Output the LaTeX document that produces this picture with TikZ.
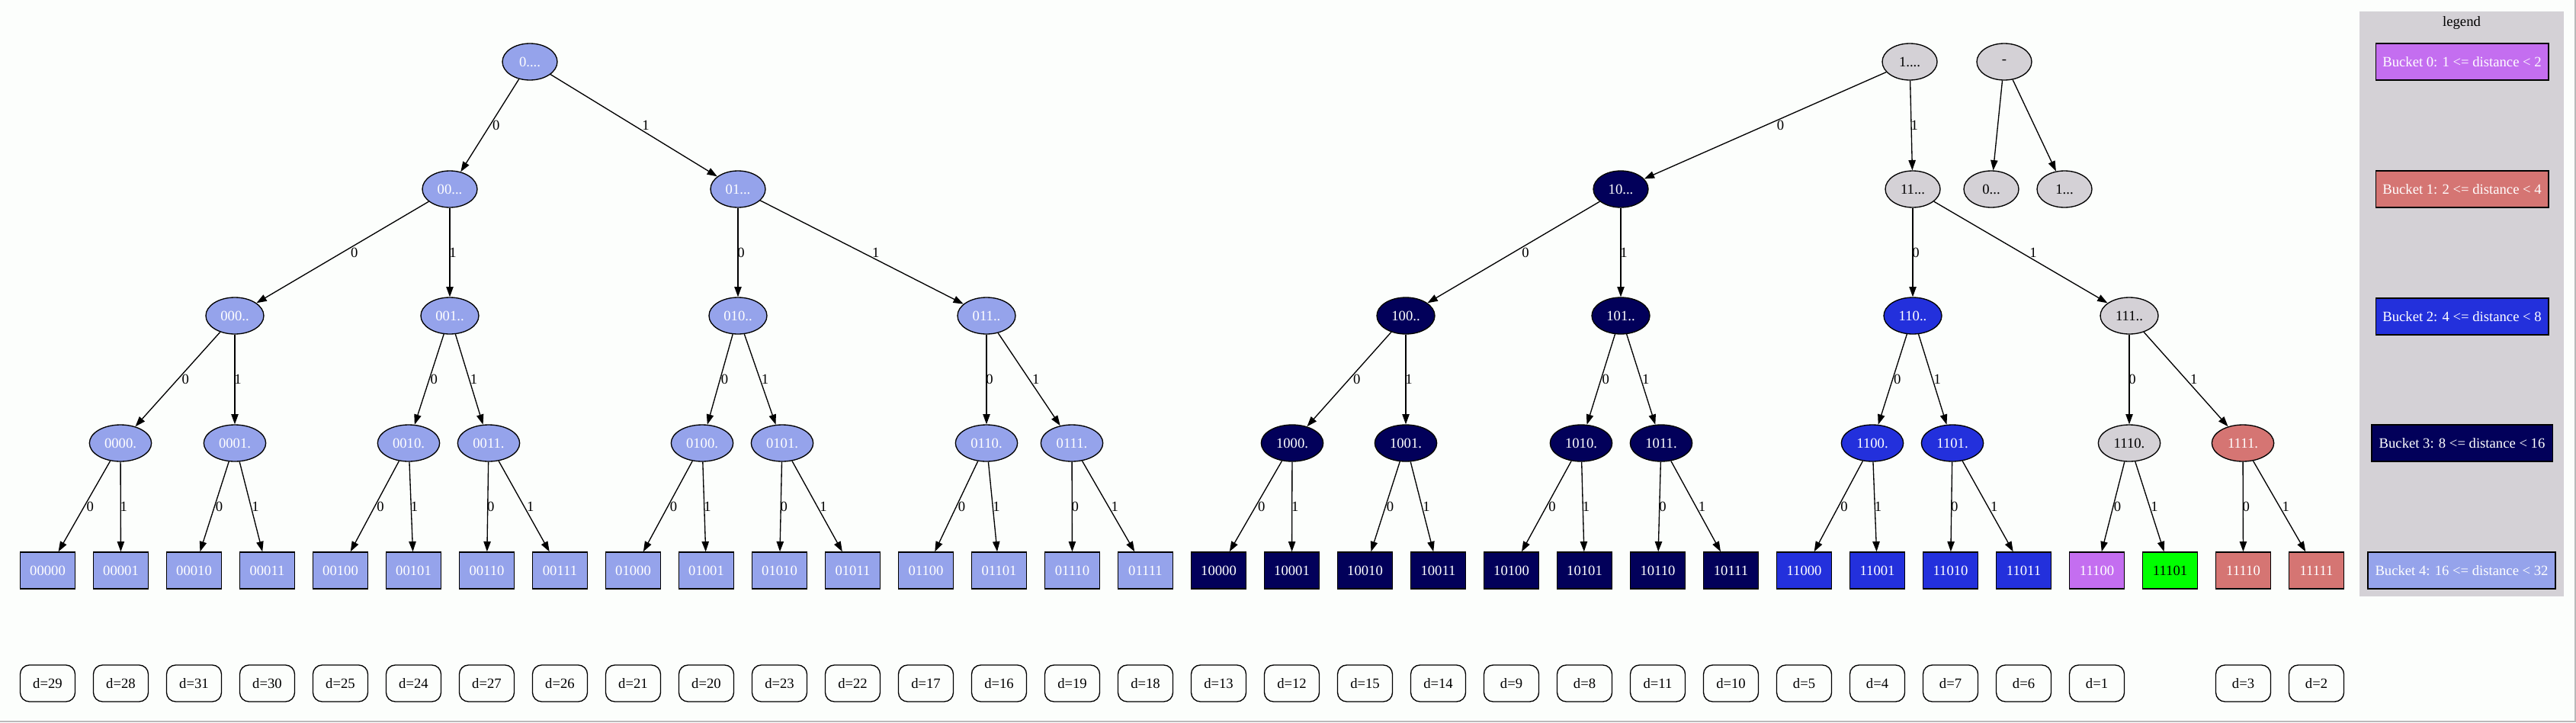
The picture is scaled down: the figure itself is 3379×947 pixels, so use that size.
\documentclass[tikz,border=0pt]{standalone}
\usepackage{fontspec}
\setmainfont{Liberation Serif}
\usetikzlibrary{shapes.geometric,arrows.meta,calc}

\definecolor{bgc}{RGB}{252,254,252}
\definecolor{cbfour}{RGB}{149,163,235}
\definecolor{cbthree}{RGB}{2,0,90}
\definecolor{cbtwo}{RGB}{35,48,220}
\definecolor{cbone}{RGB}{213,117,115}
\definecolor{cbzero}{RGB}{196,110,240}
\definecolor{cgray}{RGB}{212,209,214}
\definecolor{cgreen}{RGB}{0,255,0}
\definecolor{framec}{RGB}{185,185,185}

\tikzset{
  base/.style={draw=black, line width=1pt, font=\fontsize{14pt}{16pt}\selectfont, inner sep=0pt, text=white},
  inode/.style={base, ellipse, minimum height=36pt, minimum width=54pt},
  wtwo/.style={minimum width=57pt},
  wthree/.style={minimum width=61pt},
  leaf/.style={base, rectangle, minimum width=54pt, minimum height=36pt},
  dbox/.style={base, rectangle, rounded corners=9pt, minimum width=54pt, minimum height=36pt, text=black, fill=bgc},
  legbox/.style={base, rectangle, minimum height=36pt},
  fbfour/.style={fill=cbfour},
  fbthree/.style={fill=cbthree},
  fbtwo/.style={fill=cbtwo},
  fbone/.style={fill=cbone},
  fbzero/.style={fill=cbzero},
  fgray/.style={fill=cgray, text=black},
  fgreen/.style={fill=cgreen, text=black},
  edge/.style={draw=black, line width=1pt, -{Triangle[length=10pt,width=7pt]}},
  lab/.style={font=\fontsize{14pt}{16pt}\selectfont, inner sep=0pt, text=black},
}

\newcommand{\edg}[3]{%
  \draw[edge] (#1) -- (#2);
  \path let \p1=(#1.center), \p2=(#2.center), \n1={abs(\x2-\x1)/abs(\y2-\y1)} in
    node[lab] at ({0.5*\x1+0.5*\x2+\n1*5.25+3pt},{0.5*\y1+0.5*\y2}) {#3};
}

\begin{document}
\begin{tikzpicture}[x=0.75pt,y=-0.75pt]
\useasboundingbox (0,0) rectangle (3379,947);
\fill[bgc] (0,0) rectangle (3379,947);
\draw[framec, line width=1.2pt] (3378,0) -- (3378,946) -- (0,946);

% legend
\fill[cgray] (3095,15) rectangle (3363,782);
\node[lab] (legtitle) at (3229,30) {legend};
\node[legbox, fbzero, minimum width=170pt] (lg0) at (3229.5,81) {Bucket 0: 1 <= distance < 2};
\node[legbox, fbone, minimum width=170pt] (lg1) at (3229.5,248) {Bucket 1: 2 <= distance < 4};
\node[legbox, fbtwo, minimum width=170pt] (lg2) at (3229.5,415) {Bucket 2: 4 <= distance < 8};
\node[legbox, fbthree, minimum width=178pt] (lg3) at (3229.5,581) {Bucket 3: 8 <= distance < 16};
\node[legbox, fbfour, minimum width=184.5pt] (lg4) at (3229,748) {Bucket 4: 16 <= distance < 32};

% level 0
\node[inode, fbfour] (n0) at (695,81) {0....};
\node[inode, fgray] (n1) at (2505,81) {1....};
\node[inode, fgray] (nR) at (2629,81) {-};
% level 1
\node[inode, fbfour] (n00) at (590,248) {00...};
\node[inode, fbfour] (n01) at (968,248) {01...};
\node[inode, fbthree] (n10) at (2126,248) {10...};
\node[inode, fgray] (n11) at (2509,248) {11...};
\node[inode, fgray] (nR0) at (2612,248) {0...};
\node[inode, fgray] (nR1) at (2708,248) {1...};
% level 2
\node[inode, wtwo, fbfour] (n000) at (308,414) {000..};
\node[inode, wtwo, fbfour] (n001) at (590,414) {001..};
\node[inode, wtwo, fbfour] (n010) at (968,414) {010..};
\node[inode, wtwo, fbfour] (n011) at (1294,414) {011..};
\node[inode, wtwo, fbthree] (n100) at (1844,414) {100..};
\node[inode, wtwo, fbthree] (n101) at (2126,414) {101..};
\node[inode, wtwo, fbtwo] (n110) at (2509,414) {110..};
\node[inode, wtwo, fgray] (n111) at (2793,414) {111..};
% level 3
\node[inode, wthree, fbfour] (n0000) at (158,581) {0000.};
\node[inode, wthree, fbfour] (n0001) at (308,581) {0001.};
\node[inode, wthree, fbfour] (n0010) at (536,581) {0010.};
\node[inode, wthree, fbfour] (n0011) at (641,581) {0011.};
\node[inode, wthree, fbfour] (n0100) at (921,581) {0100.};
\node[inode, wthree, fbfour] (n0101) at (1026,581) {0101.};
\node[inode, wthree, fbfour] (n0110) at (1294,581) {0110.};
\node[inode, wthree, fbfour] (n0111) at (1406,581) {0111.};
\node[inode, wthree, fbthree] (n1000) at (1695,581) {1000.};
\node[inode, wthree, fbthree] (n1001) at (1844,581) {1001.};
\node[inode, wthree, fbthree] (n1010) at (2074,581) {1010.};
\node[inode, wthree, fbthree] (n1011) at (2179,581) {1011.};
\node[inode, wthree, fbtwo] (n1100) at (2456,581) {1100.};
\node[inode, wthree, fbtwo] (n1101) at (2561,581) {1101.};
\node[inode, wthree, fgray] (n1110) at (2793,581) {1110.};
\node[inode, wthree, fbone] (n1111) at (2942,581) {1111.};

% leaves and distance boxes
\foreach \i/\t/\s/\d in {
  0/00000/fbfour/29, 1/00001/fbfour/28, 2/00010/fbfour/31, 3/00011/fbfour/30,
  4/00100/fbfour/25, 5/00101/fbfour/24, 6/00110/fbfour/27, 7/00111/fbfour/26,
  8/01000/fbfour/21, 9/01001/fbfour/20, 10/01010/fbfour/23, 11/01011/fbfour/22,
  12/01100/fbfour/17, 13/01101/fbfour/16, 14/01110/fbfour/19, 15/01111/fbfour/18,
  16/10000/fbthree/13, 17/10001/fbthree/12, 18/10010/fbthree/15, 19/10011/fbthree/14,
  20/10100/fbthree/9, 21/10101/fbthree/8, 22/10110/fbthree/11, 23/10111/fbthree/10,
  24/11000/fbtwo/5, 25/11001/fbtwo/4, 26/11010/fbtwo/7, 27/11011/fbtwo/6,
  28/11100/fbzero/1, 30/11110/fbone/3, 31/11111/fbone/2} {
  \node[leaf, \s] (l\i) at ({62.5+96*\i},748) {\t};
  \node[dbox] (d\i) at ({62.5+96*\i},896) {d=\d};
}
\node[leaf, fgreen] (l29) at ({62.5+96*29},748) {11101};

% edges
\edg{n0}{n00}{0}
\edg{n0}{n01}{1}
\edg{n00}{n000}{0}
\edg{n00}{n001}{1}
\edg{n01}{n010}{0}
\edg{n01}{n011}{1}
\edg{n1}{n10}{0}
\edg{n1}{n11}{1}
\edg{n10}{n100}{0}
\edg{n10}{n101}{1}
\edg{n11}{n110}{0}
\edg{n11}{n111}{1}
\draw[edge] (nR) -- (nR0);
\draw[edge] (nR) -- (nR1);
\edg{n000}{n0000}{0}
\edg{n000}{n0001}{1}
\edg{n001}{n0010}{0}
\edg{n001}{n0011}{1}
\edg{n010}{n0100}{0}
\edg{n010}{n0101}{1}
\edg{n011}{n0110}{0}
\edg{n011}{n0111}{1}
\edg{n100}{n1000}{0}
\edg{n100}{n1001}{1}
\edg{n101}{n1010}{0}
\edg{n101}{n1011}{1}
\edg{n110}{n1100}{0}
\edg{n110}{n1101}{1}
\edg{n111}{n1110}{0}
\edg{n111}{n1111}{1}
\foreach \prf [count=\k from 0] in {0000,0001,0010,0011,0100,0101,0110,0111,1000,1001,1010,1011,1100,1101,1110,1111} {
  \pgfmathtruncatemacro\lfa{2*\k}
  \pgfmathtruncatemacro\lfb{2*\k+1}
  \edg{n\prf}{l\lfa}{0}
  \edg{n\prf}{l\lfb}{1}
}
\end{tikzpicture}
\end{document}
